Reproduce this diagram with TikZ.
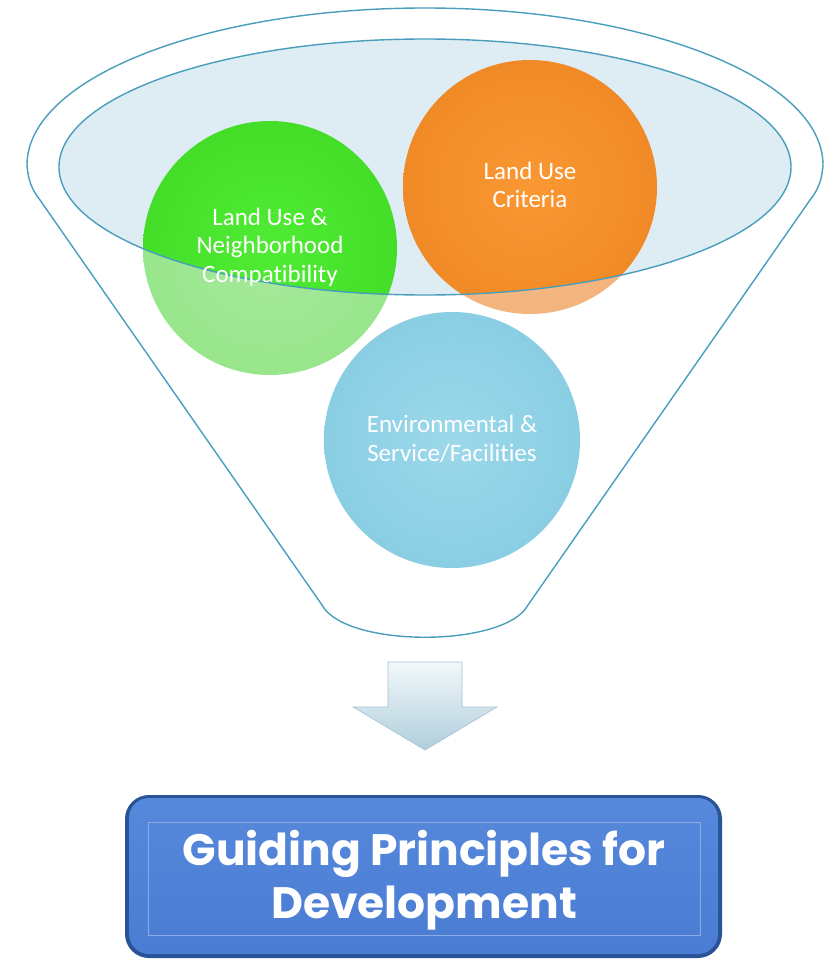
\documentclass[tikz,border=0pt]{standalone}
\usepackage{fontspec}
\setmainfont{Carlito}[Ligatures=NoCommon]
\newfontfamily\headfont{Poppins}
\usetikzlibrary{positioning}
\definecolor{funnelline}{RGB}{72,158,188}
\definecolor{funnelfill}{RGB}{222,236,243}
\definecolor{cgreen}{RGB}{80,236,52}
\definecolor{cgreendark}{RGB}{68,222,40}
\definecolor{cgreenpale}{RGB}{152,230,140}
\definecolor{corange}{RGB}{250,152,52}
\definecolor{corangedark}{RGB}{240,138,38}
\definecolor{corangepale}{RGB}{244,180,126}
\definecolor{cblue}{RGB}{156,216,234}
\definecolor{cbluedark}{RGB}{138,206,228}
\definecolor{arrowtop}{RGB}{242,248,250}
\definecolor{arrowbot}{RGB}{176,206,220}
\definecolor{arrowedge}{RGB}{164,194,208}
\definecolor{boxblue}{RGB}{74,124,210}
\definecolor{boxlight}{RGB}{86,136,220}
\definecolor{boxedge}{RGB}{42,82,150}
\tikzset{
  circletext/.style={align=center, text=white, font=\fontsize{25}{28.5}\selectfont},
  guidetext/.style={align=center, text=white, font=\headfont\bfseries\fontsize{44}{53}\selectfont}
}
\begin{document}
\begin{tikzpicture}[x=1pt,y=-1pt]
  \useasboundingbox (0,0) rectangle (833,960);
  % funnel body
  \draw[funnelline, line width=1.4pt, fill=white] (27,165)
    arc[start angle=180, end angle=360, x radius=398, y radius=157]
    .. controls (822,180) and (818,190) .. (810,200) -- (528,605)
    .. controls (505,648) and (345,648) .. (322,605) -- (40,200)
    .. controls (32,190) and (28,180) .. (27,165) -- cycle;
  % pale parts of the circles
  \shade[inner color=cgreenpale!85!white, outer color=cgreenpale] (270,248) circle[radius=127];
  \shade[inner color=corangepale!85!white, outer color=corangepale] (530,187) circle[radius=127];
  \shade[inner color=cblue, outer color=cbluedark] (452,440) circle[radius=128];
  % inner ellipse
  \fill[funnelfill] (425,167) ellipse[x radius=366, y radius=128];
  \begin{scope}
    \clip (425,167) ellipse[x radius=366, y radius=128];
    \shade[inner color=cgreen, outer color=cgreendark] (270,248) circle[radius=127];
    \shade[inner color=corange, outer color=corangedark] (530,187) circle[radius=127];
  \end{scope}
  \draw[funnelline, line width=1.4pt] (425,167) ellipse[x radius=366, y radius=128];
  % labels
  \node[circletext] (neighborhood) at (270,247) {Land Use \&\\Neighborhood\\Compatibility};
  \node[circletext] (criteria) at (530,185) {Land Use\\Criteria};
  \node[circletext] (environment) at (452,439) {Environmental \&\\Service/Facilities};
  % down arrow
  \shade[top color=arrowtop, bottom color=arrowbot, draw=arrowedge, line width=0.6pt]
    (388,662) -- (462,662) -- (462,707) -- (497,707) -- (425,750) -- (353,707) -- (388,707) -- cycle;
  % result box
  \fill[boxedge, rounded corners=24pt] (125,795) rectangle (722,958);
  \shade[top color=boxlight, bottom color=boxblue, rounded corners=20pt] (129,798) rectangle (718,954);
  \draw[boxlight!70!white, line width=0.8pt] (148,822) rectangle (700,935);
  \node[guidetext] (guide) at (424,880) {Guiding Principles for\\Development};
\end{tikzpicture}
\end{document}
